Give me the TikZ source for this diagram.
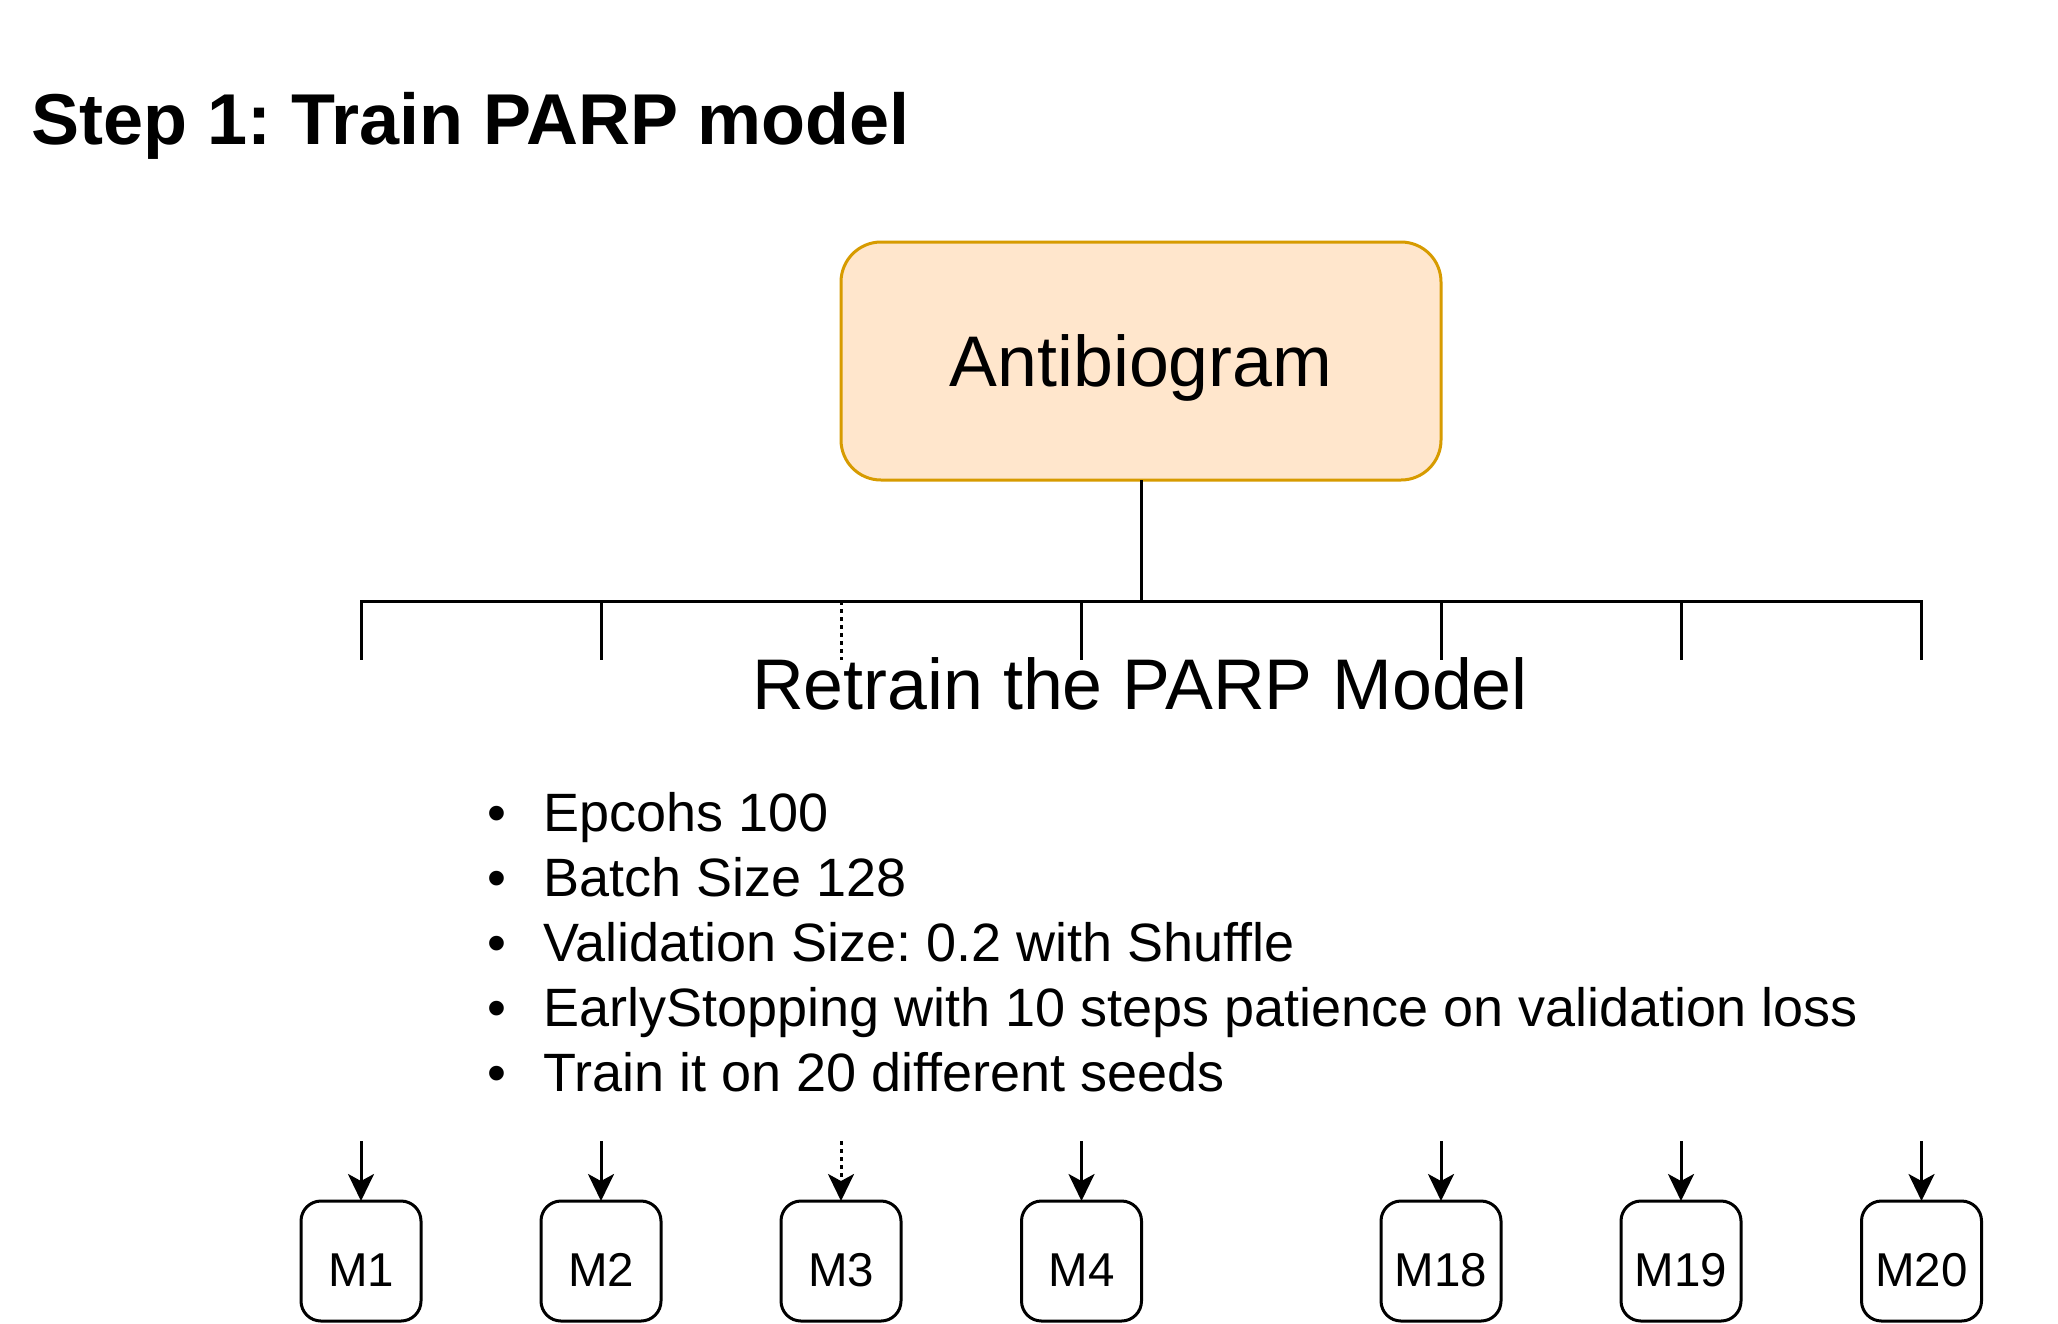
\documentclass[tikz,border=0pt]{standalone}
\usepackage{fontspec}
\setmainfont{Liberation Sans}
\usetikzlibrary{arrows.meta}
\definecolor{abfill}{HTML}{FFE6CC}
\definecolor{abdraw}{HTML}{D79B00}
\frenchspacing
\tikzset{
  line/.style={line width=3pt, draw=black},
  dotline/.style={line width=3pt, draw=black, dash pattern=on 4pt off 4pt},
  arr/.style={line width=3pt, draw=black, -{Stealth[length=27pt,width=26pt,inset=7pt]}},
  mbox/.style={draw=black, line width=3pt, rounded corners=20pt, minimum width=120pt, minimum height=120pt, inner sep=0pt, outer sep=0pt, text height=50pt, text depth=0pt, font=\fontsize{47.5}{57}\selectfont},
  bul/.style={anchor=base west, inner sep=0pt, font=\fontsize{54}{65}\selectfont},
}
\begin{document}
\begin{tikzpicture}[x=1pt,y=-1pt]
\useasboundingbox[fill=white] (0,0) rectangle (2058,1323);
% title
\node[anchor=base west, inner sep=0pt, font=\fontsize{72}{86}\bfseries\selectfont] (title) at (31,144) {Step 1: Train PARP model};
% antibiogram
\node[draw=abdraw, fill=abfill, line width=3pt, rounded corners=40pt, minimum width=600pt, minimum height=238pt, inner sep=0pt, outer sep=0pt, text depth=0pt, font=\fontsize{71.7}{86}\selectfont] (ab) at (1141,361) {Antibiogram};
% tree
\coordinate (j) at (1141,601);
\foreach \i/\x in {1/361,2/601,3/841,4/1081.5,5/1441,6/1681,7/1921.5}{
  \coordinate (t\i) at (\x,601);
  \coordinate (d\i) at (\x,660);
  \coordinate (a\i) at (\x,1141);
}
\draw[line] (ab.south) -- (j);
\draw[line, line cap=rect] (t1) -- (t7);
\draw[line] (t1) -- (d1);
\draw[line] (t2) -- (d2);
\draw[dotline] (t3) -- (d3);
\draw[line] (t4) -- (d4);
\draw[line] (t5) -- (d5);
\draw[line] (t6) -- (d6);
\draw[line] (t7) -- (d7);
% retrain text
\node[anchor=base, inner sep=0pt, font=\fontsize{71.7}{86}\selectfont] (rt) at (1140,709) {Retrain the PARP Model};
% bullets
\node[bul] (l1) at (487,831) {\makebox[56pt][l]{•}Epcohs 100};
\node[bul] (l2) at (487,896) {\makebox[56pt][l]{•}Batch Size 128};
\node[bul] (l3) at (487,961) {\makebox[56pt][l]{•}Validation Size: 0.2 with Shuffle};
\node[bul] (l4) at (487,1026) {\makebox[56pt][l]{•}EarlyStopping with 10 steps patience on validation loss};
\node[bul] (l5) at (487,1091) {\makebox[56pt][l]{•}Train it on 20 different seeds};
% model boxes
\node[mbox] (m1) at (361,1261) {M1};
\node[mbox] (m2) at (601,1261) {M2};
\node[mbox] (m3) at (841,1261) {M3};
\node[mbox] (m4) at (1081.5,1261) {M4};
\node[mbox] (m5) at (1441,1261) {M18};
\node[mbox] (m6) at (1681,1261) {M19};
\node[mbox] (m7) at (1921.5,1261) {M20};
\draw[arr] (a1) -- (m1.north);
\draw[arr] (a2) -- (m2.north);
\draw[arr, dash pattern=on 4pt off 4pt] (a3) -- (m3.north);
\draw[arr] (a4) -- (m4.north);
\draw[arr] (a5) -- (m5.north);
\draw[arr] (a6) -- (m6.north);
\draw[arr] (a7) -- (m7.north);
\end{tikzpicture}
\end{document}
